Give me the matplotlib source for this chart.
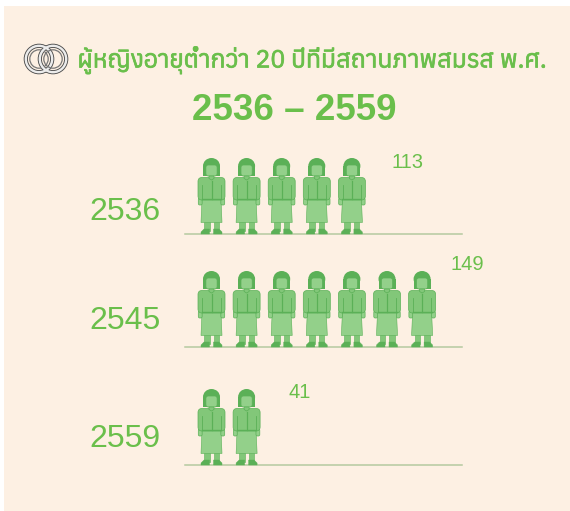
import matplotlib
matplotlib.use("Agg")
import matplotlib.pyplot as plt
import matplotlib.patheffects as pe
from matplotlib import font_manager as fm
from matplotlib.patches import Polygon, Circle, Ellipse, Rectangle, FancyBboxPatch
from matplotlib.transforms import Affine2D

# ---------- data ----------
years = ["2536", "2545", "2559"]
values = [113, 149, 41]
icon_counts = [5, 7, 2]
title_line1 = "ผู้หญิงอายุต่ำกว่า 20 ปีที่มีสถานภาพสมรส พ.ศ."
title_line2 = "2536 – 2559"

# ---------- style / layout ----------
W, H = 570, 511
BG = "#fdf0e3"
GREEN = "#6abf4b"
baselines = [234, 347, 465]
label_y = [212, 321, 439]
value_xy = [(407.5, 162), (467.5, 265), (300, 393)]

thai = sorted({f.name for f in fm.fontManager.ttflist
               if 0x0E1C in fm.get_font(f.fname).get_charmap()})
family = thai[:1] + ["Liberation Sans", "DejaVu Sans"]

fig = plt.figure(figsize=(W / 100, H / 100), dpi=100, facecolor="white")
ax = fig.add_axes([0, 0, 1, 1])
ax.set_xlim(0, W)
ax.set_ylim(H, 0)
ax.axis("off")
ax.add_patch(Rectangle((4, 6), W - 4, H - 6, fc=BG, ec="none", zorder=0))

LIGHT = "#93d08a"
MID = "#82c779"
DARK = "#5bb057"


def rounded(x, y, w, h, r, col, tr, z=3):
    ax.add_patch(FancyBboxPatch((x + r, y + r), w - 2 * r, h - 2 * r,
                                boxstyle=f"round,pad={r},rounding_size={r}",
                                fc=col, ec=DARK, lw=0.5, transform=tr, zorder=z))


def draw_icon(cx, base):
    tr = Affine2D().translate(cx, base - 76) + ax.transData
    # legs
    for s in (-1, 1):
        a, b = sorted((s * 2, s * 7.5))
        ax.add_patch(Rectangle((a, 63), b - a, 10, fc=MID, ec=DARK, lw=0.4, transform=tr, zorder=3))
        ax.add_patch(Polygon([(s * 2, 71), (s * 2, 76), (s * 10.5, 76), (s * 10.5, 74), (s * 7.5, 71)],
                             closed=True, fc=DARK, ec=DARK, lw=0.3, transform=tr, zorder=3))
    # skirt
    ax.add_patch(Polygon([(-9.5, 41), (9.5, 41), (10.5, 64.5), (-10.5, 64.5)], closed=True,
                         fc=LIGHT, ec=DARK, lw=0.4, transform=tr, zorder=3))
    # hands
    rounded(-13.2, 40, 3.8, 7, 1.5, LIGHT, tr)
    rounded(9.4, 40, 3.8, 7, 1.5, LIGHT, tr)
    # jacket
    rounded(-13.5, 19.5, 27, 22.5, 4, MID, tr)
    ax.plot([0, 0], [23, 41.5], color=DARK, lw=0.9, transform=tr, zorder=4)
    ax.plot([-9.3, -9.3], [27, 41.5], color=DARK, lw=0.6, transform=tr, zorder=4)
    ax.plot([9.3, 9.3], [27, 41.5], color=DARK, lw=0.6, transform=tr, zorder=4)
    ax.plot([-9.5, 9.5], [41.5, 41.5], color=DARK, lw=1.0, transform=tr, zorder=4)
    # hair
    ax.add_patch(Ellipse((0, 8), 17, 16, fc=DARK, ec="none", transform=tr, zorder=5))
    ax.add_patch(Rectangle((-8.5, 8), 17, 10, fc=DARK, ec="none", transform=tr, zorder=5))
    # face
    rounded(-5.6, 7, 11.2, 11, 2.4, LIGHT, tr, z=6)
    ax.add_patch(Polygon([(-2.5, 18), (2.5, 18), (2.5, 20.5), (0, 22), (-2.5, 20.5)], closed=True,
                         fc=MID, ec=DARK, lw=0.5, transform=tr, zorder=6))


for year, val, n, base, ly, (vx, vy) in zip(years, values, icon_counts, baselines, label_y, value_xy):
    ax.plot([185, 462], [base, base], color="#b5c9a0", lw=1.1, zorder=2)
    for i in range(n):
        draw_icon(211.5 + 35.1 * i, base)
    ax.text(125, ly, year, color=GREEN, fontsize=23, ha="center", va="center", family="Liberation Sans")
    ax.text(vx, vy, str(val), color=GREEN, fontsize=14.5, ha="center", va="center", family="Liberation Sans")

# rings
for cx in (39, 53):
    ax.add_patch(Circle((cx, 59), 13.2, fc="none", ec="#4d4d4d", lw=3.0, zorder=3))
    ax.add_patch(Circle((cx, 59), 13.2, fc="none", ec="#ececec", lw=1.7, zorder=4))
    ax.add_patch(Circle((cx, 59), 9.2, fc="none", ec="#777777", lw=0.9, zorder=4))

ax.text(312.5, 60, title_line1, color=GREEN, fontsize=17.8, ha="center", va="center", family=family,
        path_effects=[pe.withStroke(linewidth=0.5, foreground=GREEN)])
ax.text(294.5, 110, title_line2, color=GREEN, fontsize=26.5, ha="center", va="center",
        family="Liberation Sans", fontweight="bold")

fig.savefig("out.png", dpi=100, facecolor="white")
